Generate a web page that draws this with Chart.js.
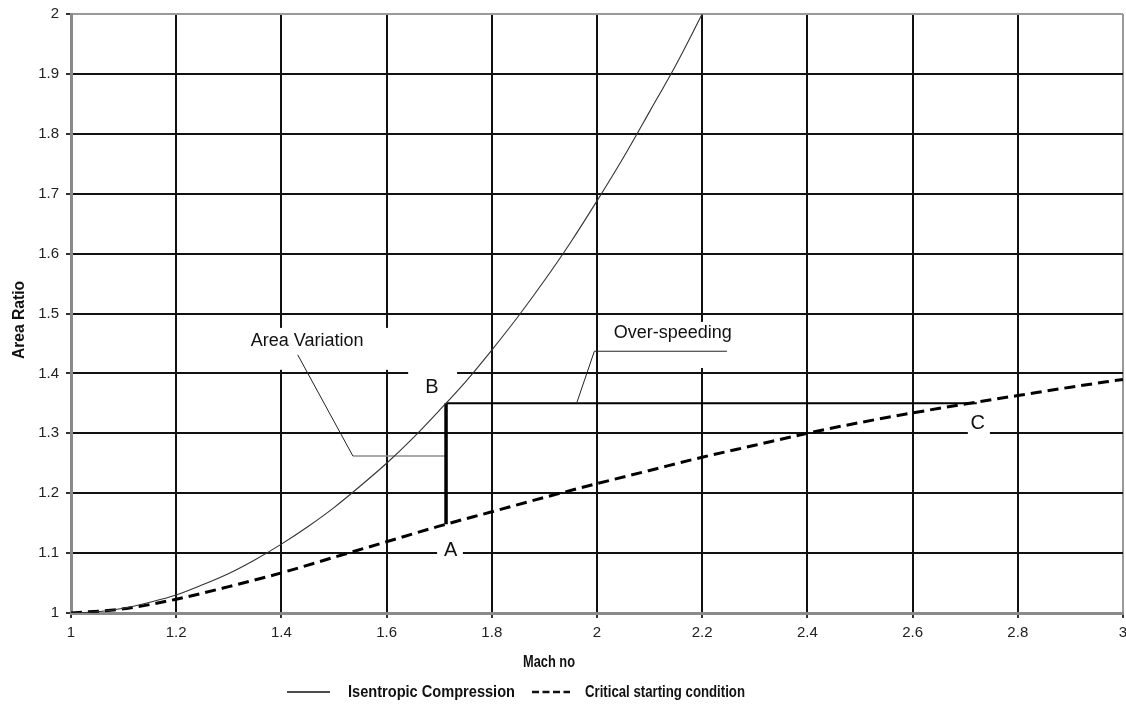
<!DOCTYPE html>
<html>
<head>
<meta charset="utf-8">
<title>Area ratio vs Mach no</title>
<script src="https://cdn.jsdelivr.net/npm/chart.js@4.4.1/dist/chart.umd.min.js"></script>
<style>
    html, body { margin: 0; padding: 0; background: #fff; }
    #wrap { width: 1126px; height: 709px; }
</style>
</head>
<body>
<div id="wrap"><canvas id="chart" width="1126" height="709"></canvas></div>
<script>
// Isentropic compression curve (area ratio vs Mach no)
var MACH_ISEN = [1.0, 1.05, 1.1, 1.15, 1.2, 1.25, 1.3, 1.35, 1.4, 1.45, 1.5, 1.55, 1.6, 1.65, 1.7, 1.75, 1.8, 1.85, 1.9, 1.95, 2.0, 2.05, 2.1, 2.15, 2.2];
var AREA_ISEN = [1.000, 1.002, 1.008, 1.018, 1.030, 1.047, 1.066, 1.089, 1.115, 1.144, 1.176, 1.212, 1.250, 1.292, 1.338, 1.386, 1.439, 1.495, 1.555, 1.619, 1.688, 1.760, 1.837, 1.915, 2.000];

// Critical starting condition (dashed)
var MACH_CRIT = [1.0, 1.1, 1.2, 1.3, 1.4, 1.5, 1.6, 1.7, 1.8, 1.9, 2.0, 2.1, 2.2, 2.3, 2.4, 2.5, 2.6, 2.7, 2.8, 2.9, 3.0];
var AREA_CRIT = [1.000, 1.007, 1.023, 1.044, 1.067, 1.093, 1.119, 1.145, 1.169, 1.193, 1.216, 1.238, 1.260, 1.280, 1.300, 1.318, 1.334, 1.349, 1.363, 1.377, 1.390];

// points B, A, C of the over-speeding construction
var PT_B = [1.713, 1.35];
var PT_A = [1.713, 1.148];
var PT_C = [2.722, 1.35];

// callout leaders
var LEAD_AREA = [[1.431, 1.431], [1.536, 1.262]];
var LEAD_AREA_FOOT = [[1.536, 1.262], [1.713, 1.262]];
var LEAD_OVER = [[1.962, 1.352], [1.995, 1.437], [2.247, 1.437]];

var NOTE_TEXT = ['Area Variation', 'B', 'Over-speeding', 'C', 'A'];
var NOTE_AT = [[1.449, 1.454], [1.686, 1.377], [2.144, 1.467], [2.724, 1.316], [1.722, 1.105]];
// white patches behind each note (x0, y0, x1, y1)
var NOTE_BOX = [[1.321, 1.406, 1.625, 1.476], [1.641, 1.359, 1.734, 1.414], [2.015, 1.409, 2.272, 1.486], [2.705, 1.289, 2.747, 1.336], [1.696, 1.078, 1.745, 1.125]];

var X_MIN = 1, X_MAX = 3, X_STEP = 0.2;
var Y_MIN = 1, Y_MAX = 2, Y_STEP = 0.1;

(function () {
    var TXT = "'Liberation Sans', Arial, Helvetica, sans-serif";

    var pts = function (xs, ys) {
        return xs.map(function (x, i) { return { x: x, y: ys[i] }; });
    };
    var pairs = function (arr) {
        return arr.map(function (p) { return { x: p[0], y: p[1] }; });
    };

    // squeeze text horizontally so it fills a given width
    function fitText(ctx, text, x, y, width, align) {
        var w = ctx.measureText(text).width;
        ctx.save();
        ctx.translate(x, y);
        ctx.scale(width / w, 1);
        ctx.textAlign = align;
        ctx.fillText(text, 0, 0);
        ctx.restore();
    }

    var notes = {
        id: 'notes',
        beforeDatasetsDraw: function (chart) {
            var ctx = chart.ctx, sx = chart.scales.x, sy = chart.scales.y;
            ctx.save();
            ctx.fillStyle = '#fff';
            NOTE_BOX.forEach(function (b) {
                var x0 = sx.getPixelForValue(b[0]), x1 = sx.getPixelForValue(b[2]);
                var y0 = sy.getPixelForValue(b[3]), y1 = sy.getPixelForValue(b[1]);
                ctx.fillRect(x0, y0, x1 - x0, y1 - y0);
            });
            ctx.restore();
        },
        afterDatasetsDraw: function (chart) {
            var ctx = chart.ctx, sx = chart.scales.x, sy = chart.scales.y;
            ctx.save();
            ctx.fillStyle = '#111';
            ctx.textAlign = 'center';
            ctx.textBaseline = 'middle';
            NOTE_TEXT.forEach(function (t, i) {
                ctx.font = (t.length > 1 ? '18px ' : '20px ') + TXT;
                ctx.fillText(t, sx.getPixelForValue(NOTE_AT[i][0]), sy.getPixelForValue(NOTE_AT[i][1]));
            });
            ctx.restore();
        },
        afterDraw: function (chart) {
            var ctx = chart.ctx;
            ctx.save();
            ctx.fillStyle = '#111';
            ctx.textBaseline = 'middle';

            ctx.font = 'bold 16px ' + TXT;
            fitText(ctx, 'Mach no', 549, 663, 52, 'center');

            ctx.save();
            ctx.translate(20, 320);
            ctx.rotate(-Math.PI / 2);
            fitText(ctx, 'Area Ratio', 0, 0, 78, 'center');
            ctx.restore();

            // legend
            ctx.strokeStyle = '#111';
            ctx.lineWidth = 1.5;
            ctx.beginPath();
            ctx.moveTo(287, 692);
            ctx.lineTo(330, 692);
            ctx.stroke();
            ctx.lineWidth = 2.5;
            ctx.setLineDash([7, 3.5]);
            ctx.beginPath();
            ctx.moveTo(532, 692);
            ctx.lineTo(570, 692);
            ctx.stroke();
            ctx.setLineDash([]);

            ctx.font = 'bold 17px ' + TXT;
            fitText(ctx, 'Isentropic Compression', 348, 692, 167, 'left');
            fitText(ctx, 'Critical starting condition', 585, 692, 160, 'left');
            ctx.restore();
        }
    };

    var edgeGrid = function (lo, hi) {
        return function (c) {
            var v = c.tick ? c.tick.value : null;
            return (Math.abs(v - lo) < 1e-6 || Math.abs(v - hi) < 1e-6) ? '#9a9a9a' : '#111';
        };
    };

    var line = function (data, color, width, dash) {
        return {
            data: data,
            borderColor: color,
            borderWidth: width,
            borderDash: dash || [],
            pointRadius: 0,
            fill: false
        };
    };

    var isen = line(pts(MACH_ISEN, AREA_ISEN), '#333', 1.1);
    isen.cubicInterpolationMode = 'monotone';
    var crit = line(pts(MACH_CRIT, AREA_CRIT), '#000', 3, [11, 6]);
    crit.cubicInterpolationMode = 'monotone';

    new Chart(document.getElementById('chart'), {
        type: 'line',
        data: {
            datasets: [
                isen,
                crit,
                line(pairs([PT_B, PT_A]), '#000', 3.5),
                line(pairs([PT_B, PT_C]), '#000', 2),
                line(pairs(LEAD_AREA), '#222', 1),
                line(pairs(LEAD_AREA_FOOT), '#8c8c8c', 1.5),
                line(pairs(LEAD_OVER), '#222', 1)
            ]
        },
        options: {
            responsive: false,
            animation: false,
            devicePixelRatio: 1,
            layout: { padding: { top: 14, right: 3, left: 0, bottom: 0 } },
            plugins: { legend: { display: false }, tooltip: { enabled: false } },
            scales: {
                x: {
                    type: 'linear',
                    min: X_MIN, max: X_MAX,
                    afterFit: function (s) { s.height = 96; s.paddingLeft = 0; s.paddingRight = 0; },
                    ticks: {
                        stepSize: X_STEP,
                        padding: 6,
                        color: '#222',
                        font: { size: 15, family: TXT },
                        callback: function (v) { return String(Number(v.toFixed(1))); }
                    },
                    grid: { color: edgeGrid(X_MIN, X_MAX), lineWidth: 2, tickLength: 5, tickColor: '#333', tickWidth: 2 },
                    border: { color: '#8a8a8a', width: 3 }
                },
                y: {
                    min: Y_MIN, max: Y_MAX,
                    afterFit: function (s) { s.width = 71; s.paddingTop = 0; s.paddingBottom = 0; },
                    ticks: {
                        stepSize: Y_STEP,
                        padding: 7,
                        color: '#222',
                        font: { size: 15, family: TXT },
                        callback: function (v) { return String(Number(v.toFixed(1))); }
                    },
                    grid: { color: edgeGrid(Y_MIN, Y_MAX), lineWidth: 2, tickLength: 5, tickColor: '#333', tickWidth: 2 },
                    border: { color: '#8a8a8a', width: 3 }
                }
            }
        },
        plugins: [notes]
    });
})();
</script>
</body>
</html>
